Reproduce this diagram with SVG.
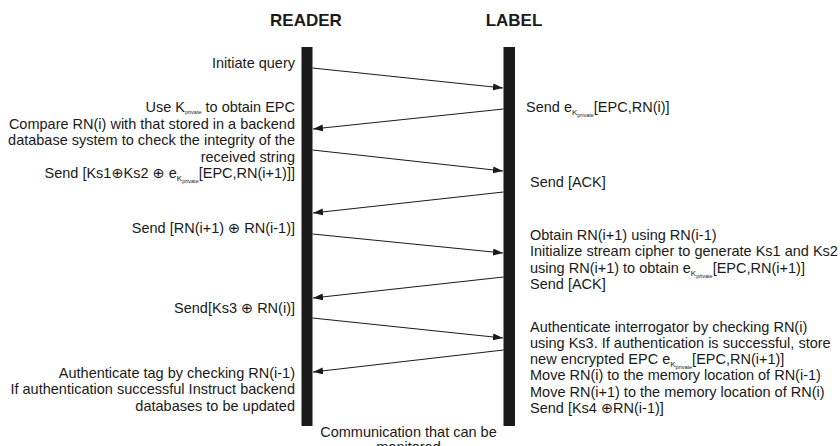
<svg xmlns="http://www.w3.org/2000/svg" width="840" height="446" viewBox="0 0 840 446">
<style>
text{font-family:"Liberation Sans",Arial,"DejaVu Sans",sans-serif;font-size:14.5px;fill:#1a1a1a}
.h{font-size:17px;font-weight:bold;text-anchor:middle}
.r{text-anchor:end}
.c{text-anchor:middle}
.bar{fill:#1a1a1a}
.msg{stroke:#1a1a1a;stroke-width:1;fill:none;marker-end:url(#ah)}
</style>
<defs>
<marker id="ah" markerUnits="userSpaceOnUse" markerWidth="10" markerHeight="8" refX="10" refY="3.5" orient="auto">
<path d="M0,0 L10,3.5 L0,7 z" fill="#1a1a1a"/>
</marker>
</defs>
<rect width="840" height="446" fill="#fff"/>
<g id="reader">
<text class="h" x="306" y="25.5">READER</text>
<rect class="bar" x="301.5" y="47" width="11" height="379"/>
</g>
<g id="label">
<text class="h" x="514" y="25.5">LABEL</text>
<rect class="bar" x="503.5" y="47" width="11.5" height="379"/>
</g>
<g id="connectors">
<line class="msg" x1="312.5" y1="68" x2="503" y2="88"/>
<line class="msg" x1="503.5" y1="109" x2="313" y2="129"/>
<line class="msg" x1="312.5" y1="150" x2="503" y2="171"/>
<line class="msg" x1="503.5" y1="192" x2="313" y2="213"/>
<line class="msg" x1="312.5" y1="234" x2="503" y2="253"/>
<line class="msg" x1="503.5" y1="277" x2="313" y2="298"/>
<line class="msg" x1="312.5" y1="318" x2="503" y2="338"/>
<line class="msg" x1="503.5" y1="350" x2="313" y2="372"/>
</g>
<g id="reader-notes">
<text class="r" x="295" y="68">Initiate query</text>
<text class="r" x="295" y="112">Use K<tspan font-size="5.5" dy="2">private</tspan><tspan dy="-2"> to obtain EPC</tspan></text>
<text class="r" x="295" y="128.5">Compare RN(i) with that stored in a backend</text>
<text class="r" x="295" y="145">database system to check the integrity of the</text>
<text class="r" x="295" y="161.5">received string</text>
<text class="r" x="295" y="178">Send [Ks1⊕Ks2 ⊕ e<tspan font-size="8" dy="3">K</tspan><tspan font-size="5.5" dy="2">private</tspan><tspan dy="-5">[EPC,RN(i+1)]]</tspan></text>
<text class="r" x="295" y="233">Send [RN(i+1) ⊕ RN(i-1)]</text>
<text class="r" x="295" y="312.5">Send[Ks3 ⊕ RN(i)]</text>
<text class="r" x="295" y="378">Authenticate tag by checking RN(i-1)</text>
<text class="r" x="295" y="394.3">If authentication successful Instruct backend</text>
<text class="r" x="295" y="410.6">databases to be updated</text>
</g>
<g id="label-notes">
<text x="526" y="112.3">Send e<tspan font-size="8" dy="3">K</tspan><tspan font-size="5.5" dy="2">private</tspan><tspan dy="-5">[EPC,RN(i)]</tspan></text>
<text x="530" y="187.3">Send [ACK]</text>
<text x="530" y="239.5">Obtain RN(i+1) using RN(i-1)</text>
<text x="530" y="256">Initialize stream cipher to generate Ks1 and Ks2</text>
<text x="530" y="272.5">using RN(i+1) to obtain e<tspan font-size="8" dy="3">K</tspan><tspan font-size="5.5" dy="2">private</tspan><tspan dy="-5">[EPC,RN(i+1)]</tspan></text>
<text x="530" y="289">Send [ACK]</text>
<text x="530" y="331.5">Authenticate interrogator by checking RN(i)</text>
<text x="530" y="347.8">using Ks3. If authentication is successful, store</text>
<text x="530" y="364.1">new encrypted EPC e<tspan font-size="8" dy="3">K</tspan><tspan font-size="5.5" dy="2">private</tspan><tspan dy="-5">[EPC,RN(i+1)]</tspan></text>
<text x="530" y="380.4">Move RN(i) to the memory location of RN(i-1)</text>
<text x="530" y="396.7">Move RN(i+1) to the memory location of RN(i)</text>
<text x="530" y="413">Send [Ks4 ⊕RN(i-1)]</text>
</g>
<g id="footnote">
<text class="c" x="408.5" y="437">Communication that can be</text>
<text class="c" x="408.5" y="452">monitored</text>
</g>
</svg>
